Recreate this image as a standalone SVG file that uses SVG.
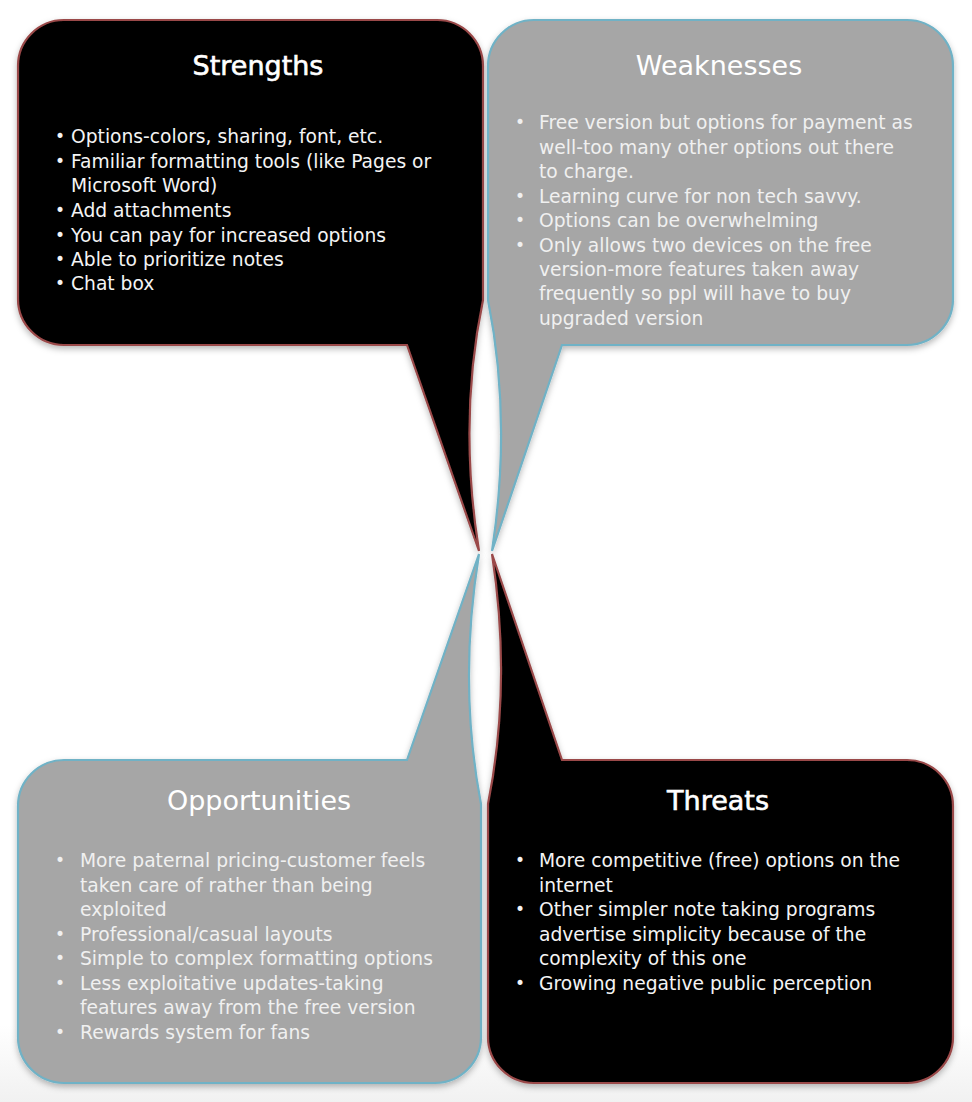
<svg xmlns="http://www.w3.org/2000/svg" width="972" height="1102" viewBox="0 0 972 1102">
  <defs>
    <linearGradient id="floor" x1="0" y1="0" x2="0" y2="1">
      <stop offset="0" stop-color="#ffffff"/>
      <stop offset="0.93" stop-color="#ffffff"/>
      <stop offset="1" stop-color="#f1f1f1"/>
    </linearGradient>
    <filter id="shadow" x="-5%" y="-5%" width="110%" height="112%">
      <feDropShadow dx="0" dy="3" stdDeviation="3" flood-color="#000" flood-opacity="0.28"/>
    </filter>
    <style>
      .dark { fill: #000000; stroke: #9a4848; stroke-width: 2.2; filter: url(#shadow); }
      .light { fill: #a6a6a6; stroke: #6fb2c6; stroke-width: 2.2; filter: url(#shadow); }
      .title { font-family: "DejaVu Sans", "Liberation Sans", sans-serif; font-size: 27px; text-anchor: middle; fill: #ffffff; }
      .dark-title { stroke: #ffffff; stroke-width: 0.6; }
      .body { font-family: "DejaVu Sans", "Liberation Sans", sans-serif; font-size: 18.7px; }
      .bullet { font-size: 17px; text-anchor: middle; }
      .on-dark { fill: #f4f4f4; }
      .on-light { fill: #f0f0f0; }
    </style>
  </defs>

  <rect x="0" y="0" width="972" height="1102" fill="url(#floor)"/>

  <!-- Strengths: top-left bubble, tail pointing to the centre -->
  <g id="strengths">
    <path class="dark" d="M 64,20 H 437 A 46 46 0 0 1 483,66 V 300 Q 458,420 479,551 L 407,345 H 64 A 46 46 0 0 1 18,299 V 66 A 46 46 0 0 1 64,20 Z"/>
    <text class="title dark-title" x="258" y="75">Strengths</text>
    <g class="body on-dark">
      <text class="bullet" x="60" y="142">•</text><text x="71" y="143">Options-colors, sharing, font, etc.</text>
      <text class="bullet" x="60" y="167">•</text><text x="71" y="168">Familiar formatting tools (like Pages or</text>
      <text x="71" y="192">Microsoft Word)</text>
      <text class="bullet" x="60" y="216">•</text><text x="71" y="217">Add attachments</text>
      <text class="bullet" x="60" y="241">•</text><text x="71" y="242">You can pay for increased options</text>
      <text class="bullet" x="60" y="265">•</text><text x="71" y="266">Able to prioritize notes</text>
      <text class="bullet" x="60" y="289">•</text><text x="71" y="290">Chat box</text>
    </g>
  </g>

  <!-- Weaknesses: top-right bubble -->
  <g id="weaknesses">
    <path class="light" d="M 534,20 H 907 A 46 46 0 0 1 953,66 V 299 A 46 46 0 0 1 907,345 H 562 L 492,551 Q 512,420 488,300 V 66 A 46 46 0 0 1 534,20 Z"/>
    <text class="title" x="719" y="75">Weaknesses</text>
    <g class="body on-light">
      <text class="bullet" x="520" y="128">•</text><text x="539" y="129">Free version but options for payment as</text>
      <text x="539" y="154">well-too many other options out there</text>
      <text x="539" y="178">to charge.</text>
      <text class="bullet" x="520" y="202">•</text><text x="539" y="203">Learning curve for non tech savvy.</text>
      <text class="bullet" x="520" y="226">•</text><text x="539" y="227">Options can be overwhelming</text>
      <text class="bullet" x="520" y="251">•</text><text x="539" y="252">Only allows two devices on the free</text>
      <text x="539" y="276">version-more features taken away</text>
      <text x="539" y="300">frequently so ppl will have to buy</text>
      <text x="539" y="325">upgraded version</text>
    </g>
  </g>

  <!-- Opportunities: bottom-left bubble -->
  <g id="opportunities">
    <path class="light" d="M 64,760 H 407 L 479,554 Q 458,684 481,804 V 1037 A 46 46 0 0 1 435,1083 H 64 A 46 46 0 0 1 18,1037 V 806 A 46 46 0 0 1 64,760 Z"/>
    <text class="title" x="259" y="810">Opportunities</text>
    <g class="body on-light">
      <text class="bullet" x="60" y="866">•</text><text x="80" y="867">More paternal pricing-customer feels</text>
      <text x="80" y="891.5">taken care of rather than being</text>
      <text x="80" y="916">exploited</text>
      <text class="bullet" x="60" y="939.5">•</text><text x="80" y="940.5">Professional/casual layouts</text>
      <text class="bullet" x="60" y="964">•</text><text x="80" y="965">Simple to complex formatting options</text>
      <text class="bullet" x="60" y="988.5">•</text><text x="80" y="989.5">Less exploitative updates-taking</text>
      <text x="80" y="1014">features away from the free version</text>
      <text class="bullet" x="60" y="1037.5">•</text><text x="80" y="1038.5">Rewards system for fans</text>
    </g>
  </g>

  <!-- Threats: bottom-right bubble -->
  <g id="threats">
    <path class="dark" d="M 492,554 L 562,760 H 907 A 46 46 0 0 1 953,806 V 1037 A 46 46 0 0 1 907,1083 H 534 A 46 46 0 0 1 488,1037 V 804 Q 512,684 492,554 Z"/>
    <text class="title dark-title" x="718" y="810">Threats</text>
    <g class="body on-dark">
      <text class="bullet" x="520" y="866">•</text><text x="539" y="867">More competitive (free) options on the</text>
      <text x="539" y="891.5">internet</text>
      <text class="bullet" x="520" y="915">•</text><text x="539" y="916">Other simpler note taking programs</text>
      <text x="539" y="940.5">advertise simplicity because of the</text>
      <text x="539" y="965">complexity of this one</text>
      <text class="bullet" x="520" y="988.5">•</text><text x="539" y="989.5">Growing negative public perception</text>
    </g>
  </g>

  <!-- the four bubbles meet only at their tails; there are no separate connectors -->
  <g id="connectors"/>
</svg>
